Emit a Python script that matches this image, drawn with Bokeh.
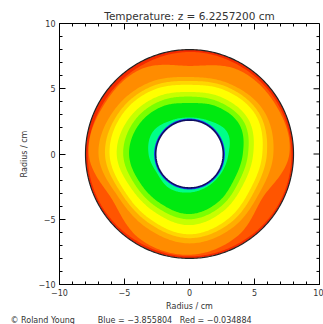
import numpy as np
from bokeh.plotting import figure
from bokeh.models import LinearAxis, SingleIntervalTicker, Range1d, Title
from bokeh.embed import file_html
from bokeh.resources import INLINE

# ---------------- data ----------------
title_text = "Temperature: z = 6.2257200 cm"
x_label = "Radius / cm"
y_label = "Radius / cm"
credit = "\u00a9 Roland Young"
range_text = "Blue = \u22123.855804\u00a0\u00a0\u00a0Red = \u22120.034884"

tick_values = [-10, -5, 0, 5, 10]
tick_labels = ["\u221210", "\u22125", "0", "5", "10"]
minor_step = 1

r_outer = 8.0
r_inner = 2.6

# angles (deg) at which each contour-band boundary radius was read
angles_deg = [0, 30, 60, 90, 120, 150, 180, 210, 240, 270, 300, 330]

# boundary radii, outer band -> inner band
b_red_orangered = [7.84, 7.80, 7.78, 7.82, 7.72, 7.70, 7.82, 7.84, 7.80, 7.84, 7.82, 7.85]
b_orangered_orange = [7.68, 7.62, 7.45, 6.75, 7.50, 7.58, 7.75, 6.90, 7.55, 7.72, 7.30, 6.55]
b_orange_lightorange = [6.45, 6.60, 6.20, 5.90, 6.30, 6.70, 7.00, 6.40, 6.55, 6.85, 6.55, 6.15]
b_lightorange_gold = [5.95, 6.20, 5.90, 5.60, 5.95, 6.30, 6.50, 6.05, 6.15, 6.45, 6.15, 5.75]
b_gold_yellow = [5.60, 5.90, 5.60, 5.30, 5.65, 6.00, 6.15, 5.75, 5.85, 6.15, 5.80, 5.40]
b_yellow_yg = [4.90, 5.25, 5.00, 4.75, 5.05, 5.40, 5.60, 5.20, 5.20, 5.45, 5.10, 4.75]
b_yg_lightgreen = [4.50, 4.85, 4.60, 4.40, 4.65, 4.95, 5.10, 4.80, 4.80, 5.00, 4.70, 4.35]
b_lightgreen_green = [4.10, 4.45, 4.20, 3.90, 4.20, 4.50, 4.65, 4.40, 4.40, 4.60, 4.30, 3.95]
b_green_spring = [3.00, 3.35, 2.95, 2.80, 2.95, 3.30, 3.15, 2.90, 3.05, 2.95, 2.85, 2.85]
b_spring_blue = [2.72, 2.72, 2.72, 2.72, 2.72, 2.72, 2.72, 2.72, 2.72, 2.72, 2.72, 2.72]

boundaries = [b_red_orangered, b_orangered_orange, b_orange_lightorange,
              b_lightorange_gold, b_gold_yellow, b_yellow_yg, b_yg_lightgreen,
              b_lightgreen_green, b_green_spring, b_spring_blue]

# colour of the band outside each boundary (first = outermost band)
band_colors = ["#f42a00", "#ff5500", "#ff8c00", "#ffae00", "#ffd600", "#ffff00",
               "#c6ff00", "#7aff00", "#00ea10", "#00ff88", "#1838ff"]

# ---------------- drawing helpers ----------------
def closed_curve(radii, n=360):
    """Smooth closed curve through radii read at equally spaced angles."""
    r = np.asarray(radii, dtype=float)
    m = len(r)
    t = np.linspace(0, m, n, endpoint=False)
    i = np.floor(t).astype(int)
    u = t - i
    p0, p1, p2, p3 = r[(i - 1) % m], r[i % m], r[(i + 1) % m], r[(i + 2) % m]
    rr = 0.5 * (2 * p1 + (-p0 + p2) * u + (2 * p0 - 5 * p1 + 4 * p2 - p3) * u ** 2
                + (-p0 + 3 * p1 - 3 * p2 + p3) * u ** 3)
    th = np.deg2rad(angles_deg[0] + t * 360.0 / m)
    return list(rr * np.cos(th)), list(rr * np.sin(th))


def circle_pts(r, n=360):
    th = np.linspace(0, 2 * np.pi, n, endpoint=False)
    return list(r * np.cos(th)), list(r * np.sin(th))


# ---------------- figure ----------------
font = "DejaVu Sans"
txt_color = "#333333"

p = figure(width=323, height=324, x_range=Range1d(-10, 10), y_range=Range1d(-10, 10),
           output_backend="svg", toolbar_location=None,
           min_border_left=59, min_border_right=4, min_border_top=23, min_border_bottom=39,
           x_axis_type=None, y_axis_type=None)
p.grid.visible = False
p.outline_line_color = "black"
p.outline_line_width = 1
p.background_fill_color = "white"
p.border_fill_color = "white"

p.title.text = title_text
p.title.align = "center"
p.title.text_font = font
p.title.text_font_size = "10.5px"
p.title.text_font_style = "normal"
p.title.text_color = txt_color
p.title.standoff = 3

# filled contour bands (painter's order, outer to inner)
xs, ys, cols = [], [], []
x0, y0 = circle_pts(r_outer)
xs.append(x0); ys.append(y0); cols.append(band_colors[0])
for b, c in zip(boundaries, band_colors[1:]):
    bx, by = closed_curve(b)
    xs.append(bx); ys.append(by); cols.append(c)
xi, yi = circle_pts(r_inner)
xs.append(xi); ys.append(yi); cols.append("white")
p.patches(xs, ys, fill_color=cols, line_color=None)

# outlines of the cylinders
p.patch(x0, y0, fill_color=None, line_color="#222222", line_width=1.2)
p.patch(xi, yi, fill_color=None, line_color="#101060", line_width=1.6)

# axes with inward ticks
def make_axis(label, standoff):
    ax = LinearAxis(ticker=SingleIntervalTicker(interval=5, num_minor_ticks=5))
    ax.major_tick_in = 6
    ax.major_tick_out = 0
    ax.minor_tick_in = 3
    ax.minor_tick_out = 0
    ax.axis_line_color = "black"
    ax.major_tick_line_color = "black"
    ax.minor_tick_line_color = "black"
    ax.major_label_overrides = {v: s for v, s in zip(tick_values, tick_labels)}
    ax.major_label_text_font = font
    ax.major_label_text_font_size = "8px"
    ax.major_label_text_color = txt_color
    ax.major_label_standoff = 4
    ax.axis_label = label
    ax.axis_label_text_font = font
    ax.axis_label_text_font_size = "8px"
    ax.axis_label_text_font_style = "normal"
    ax.axis_label_text_color = txt_color
    ax.axis_label_standoff = standoff
    return ax

p.add_layout(make_axis(x_label, 3), "below")
p.add_layout(make_axis(y_label, 7), "left")

# mirrored inward ticks on the top and right sides of the box
x_lo, x_hi = p.x_range.start, p.x_range.end
y_lo, y_hi = p.y_range.start, p.y_range.end
maj_len_x = 6 * (x_hi - x_lo) / 260.0
maj_len_y = 6 * (y_hi - y_lo) / 262.0
minor_vals = [v for v in np.arange(x_lo, x_hi + 0.5 * minor_step, minor_step)
              if v not in tick_values]
p.segment(x0=tick_values, y0=[y_hi] * len(tick_values), x1=tick_values,
          y1=[y_hi - maj_len_y] * len(tick_values), line_color="black", line_width=1)
p.segment(x0=minor_vals, y0=[y_hi] * len(minor_vals), x1=minor_vals,
          y1=[y_hi - maj_len_y / 2] * len(minor_vals), line_color="black", line_width=1)
p.segment(x0=[x_hi] * len(tick_values), y0=tick_values, x1=[x_hi - maj_len_x] * len(tick_values),
          y1=tick_values, line_color="black", line_width=1)
p.segment(x0=[x_hi] * len(minor_vals), y0=minor_vals, x1=[x_hi - maj_len_x / 2] * len(minor_vals),
          y1=minor_vals, line_color="black", line_width=1)

# bottom footer line: credit (left) and colour range (centred under the axis)
gap = "\u00a0" * 9
footer = Title(text=credit + gap + range_text, align="left", offset=-49,
               text_font=font, text_font_size="8px", text_font_style="normal",
               text_color=txt_color, standoff=0)
p.add_layout(footer, "below")

open("out.html", "w").write(file_html(p, INLINE))
